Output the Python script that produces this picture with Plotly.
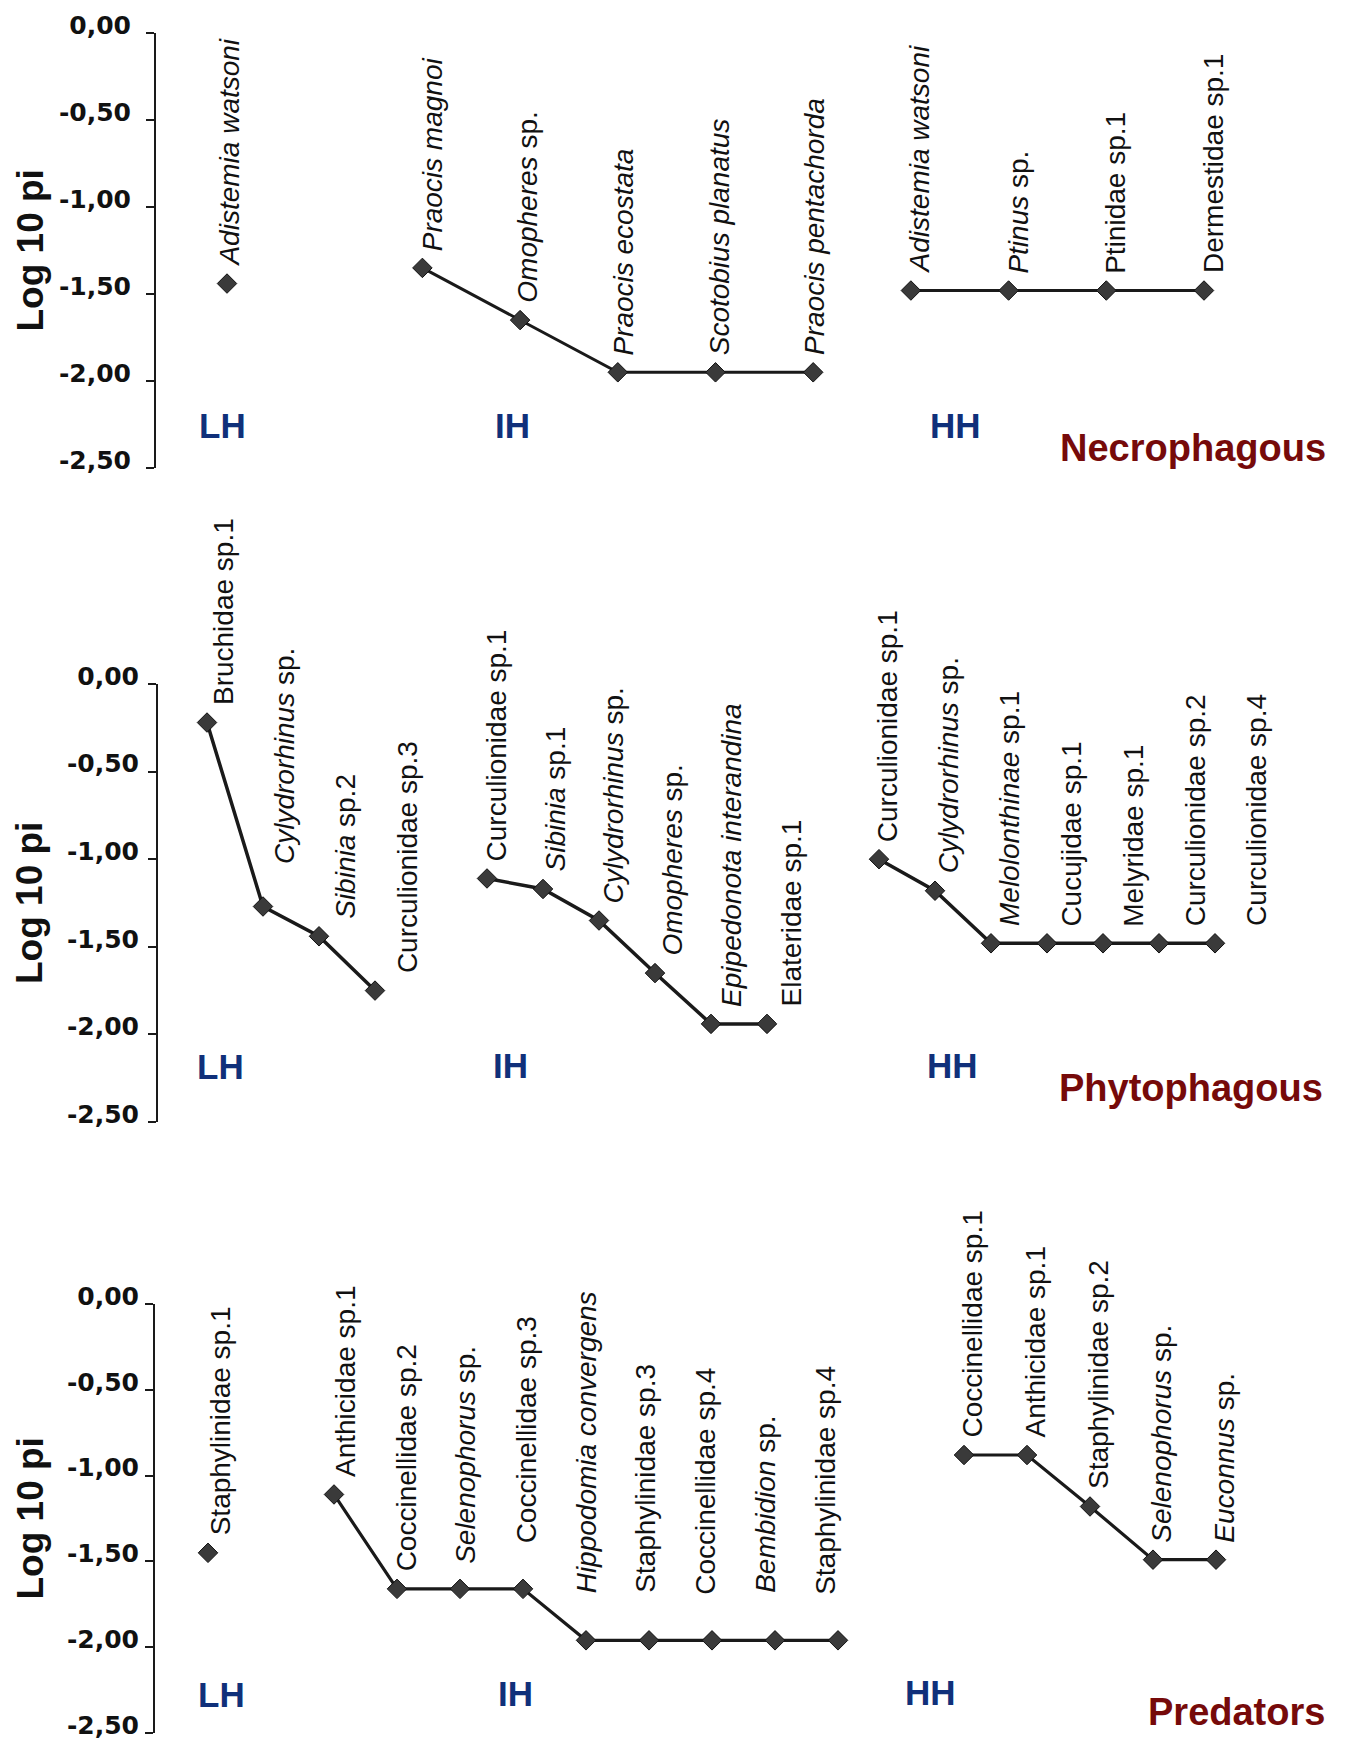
import plotly.graph_objects as go

W, H = 1348, 1751

# ------------------------------------------------------------------ data
panel_names = ["Necrophagous", "Phytophagous", "Predators"]
group_names = ["LH", "IH", "HH"]
y_tick_values = [0.0, -0.5, -1.0, -1.5, -2.0, -2.5]
y_tick_text = ["0,00", "-0,50", "-1,00", "-1,50", "-2,00", "-2,50"]
y_title = "Log 10 pi"

# Necrophagous
nec_lh_species = ["<i>Adistemia watsoni</i>"]
nec_lh_log = [-1.44]
nec_ih_species = ["<i>Praocis magnoi</i>", "<i>Omopheres</i> sp.", "<i>Praocis ecostata</i>",
                  "<i>Scotobius planatus</i>", "<i>Praocis pentachorda</i>"]
nec_ih_log = [-1.35, -1.65, -1.95, -1.95, -1.95]
nec_hh_species = ["<i>Adistemia watsoni</i>", "<i>Ptinus</i> sp.", "Ptinidae sp.1", "Dermestidae sp.1"]
nec_hh_log = [-1.48, -1.48, -1.48, -1.48]

# Phytophagous
phy_lh_species = ["Bruchidae sp.1", "<i>Cylydrorhinus</i> sp.", "<i>Sibinia</i> sp.2", "Curculionidae sp.3"]
phy_lh_log = [-0.22, -1.27, -1.44, -1.75]
phy_ih_species = ["Curculionidae sp.1", "<i>Sibinia</i> sp.1", "<i>Cylydrorhinus</i> sp.",
                  "<i>Omopheres</i> sp.", "<i>Epipedonota interandina</i>", "Elateridae sp.1"]
phy_ih_log = [-1.11, -1.17, -1.35, -1.65, -1.94, -1.94]
phy_hh_species = ["Curculionidae sp.1", "<i>Cylydrorhinus</i> sp.", "<i>Melolonthinae</i> sp.1",
                  "Cucujidae sp.1", "Melyridae sp.1", "Curculionidae sp.2", "Curculionidae sp.4"]
phy_hh_log = [-1.00, -1.18, -1.48, -1.48, -1.48, -1.48, -1.48]

# Predators
pre_lh_species = ["Staphylinidae sp.1"]
pre_lh_log = [-1.45]
pre_ih_species = ["Anthicidae sp.1", "Coccinellidae sp.2", "<i>Selenophorus</i> sp.", "Coccinellidae sp.3",
                  "<i>Hippodomia convergens</i>", "Staphylinidae sp.3", "Coccinellidae sp.4",
                  "<i>Bembidion</i> sp.", "Staphylinidae sp.4"]
pre_ih_log = [-1.11, -1.66, -1.66, -1.66, -1.96, -1.96, -1.96, -1.96, -1.96]
pre_hh_species = ["Coccinellidae sp.1", "Anthicidae sp.1", "Staphylinidae sp.2",
                  "<i>Selenophorus</i> sp.", "<i>Euconnus</i> sp."]
pre_hh_log = [-0.88, -0.88, -1.18, -1.49, -1.49]

series = [
    [(nec_lh_species, nec_lh_log), (nec_ih_species, nec_ih_log), (nec_hh_species, nec_hh_log)],
    [(phy_lh_species, phy_lh_log), (phy_ih_species, phy_ih_log), (phy_hh_species, phy_hh_log)],
    [(pre_lh_species, pre_lh_log), (pre_ih_species, pre_ih_log), (pre_hh_species, pre_hh_log)],
]

# ------------------------------------------------------------------ layout / style
ROW_TOP_PX = [33, 684, 1304]        # pixel row of value 0
ROW_BOT_PX = [468, 1122, 1733]      # pixel row of value -2.5
ROW_AXIS_PX = [155, 157, 154]       # x pixel of the y axis line
ROW_SLOT0_PX = [227, 207, 208]      # x pixel of slot 0
ROW_STEP_PX = [97.7, 56, 63]        # pixel distance between slots
GROUP_FIRST_SLOT = [[0, 2, 7], [0, 5, 12], [0, 2, 12]]
TICK_STANDOFF = [10, 4, 1]
LINE_W = [3, 3.5, 3.2]

# label offsets: (base xshift, drift per item)
LABEL_DX = [[(3, 0), (10, -2), (9, 0)],
            [(16, 5.5), (9, 3), (8, 5.6)],
            [(12, 0), (12, -3), (9, 0)]]
LABEL_GAP = 15
LABEL_LIFT = {(1, 0): {1: 25}, (2, 1): {2: 8, 3: 28, 4: 30, 5: 30, 6: 28, 7: 30, 8: 28}}

GROUP_LABEL_PX = [[(222, 425), (512, 426), (955, 426)],
                  [(220, 1066), (510, 1065), (952, 1065)],
                  [(221, 1694), (515, 1693), (930, 1692)]]
PANEL_LABEL_PX = [(1328, 448), (1325, 1088), (1327, 1712)]

NAVY = "#10307a"
DARKRED = "#760a0a"
INK = "#1a1a1a"

fig = go.Figure()
annotations = []
layout = {}

for r in range(3):
    xa = "x" if r == 0 else f"x{r + 1}"
    ya = "y" if r == 0 else f"y{r + 1}"
    p0, step = ROW_SLOT0_PX[r], ROW_STEP_PX[r]
    layout["xaxis" if r == 0 else f"xaxis{r + 1}"] = dict(
        domain=[0, 1], range=[-p0 / step, (W - p0) / step], anchor=ya,
        visible=False, showgrid=False, zeroline=False, automargin=False)
    layout["yaxis" if r == 0 else f"yaxis{r + 1}"] = dict(
        domain=[1 - ROW_BOT_PX[r] / H, 1 - ROW_TOP_PX[r] / H], range=[-2.5, 0],
        anchor="free", position=ROW_AXIS_PX[r] / W, automargin=False,
        showline=True, linewidth=2, linecolor=INK, ticks="outside", ticklen=8,
        tickwidth=2, tickcolor=INK, showgrid=False, zeroline=False,
        tickvals=y_tick_values, ticktext=y_tick_text,
        tickfont=dict(family="DejaVu Sans", size=25, color="#111111", weight="bold"),
        ticklabelstandoff=TICK_STANDOFF[r], ticklabelshift=-8)

    for g in range(3):
        names, vals = series[r][g]
        xs = [GROUP_FIRST_SLOT[r][g] + i for i in range(len(vals))]
        fig.add_trace(go.Scatter(
            x=xs, y=vals, xaxis=xa, yaxis=ya, mode="lines+markers",
            line=dict(color=INK, width=LINE_W[r]),
            marker=dict(symbol="diamond", size=15, color="#3a3a3a",
                        line=dict(color="#111111", width=1)),
            showlegend=False, hoverinfo="skip"))
        base, drift = LABEL_DX[r][g]
        lifts = LABEL_LIFT.get((r, g), {})
        for i, (nm, v) in enumerate(zip(names, vals)):
            annotations.append(dict(
                x=xs[i], y=v, xref=xa, yref=ya, text=nm, showarrow=False,
                textangle=-90, xanchor="center", yanchor="bottom",
                xshift=base + drift * i, yshift=LABEL_GAP + lifts.get(i, 0),
                font=dict(family="Liberation Sans", size=28, color="#111111")))
        gx, gy = GROUP_LABEL_PX[r][g]
        annotations.append(dict(
            x=gx / W, y=1 - gy / H, xref="paper", yref="paper", text=group_names[g],
            showarrow=False, xanchor="center", yanchor="middle",
            font=dict(family="Liberation Sans", size=35, color=NAVY, weight="bold")))

    # y title
    cy = (ROW_TOP_PX[r] + ROW_BOT_PX[r]) / 2
    annotations.append(dict(
        x=30 / W, y=1 - cy / H, xref="paper", yref="paper", text=y_title,
        showarrow=False, textangle=-90, xanchor="center", yanchor="middle",
        font=dict(family="Liberation Sans", size=37, color="#111111", weight="bold")))
    # panel name
    px, py = PANEL_LABEL_PX[r]
    annotations.append(dict(
        x=px / W, y=1 - py / H, xref="paper", yref="paper", text=panel_names[r],
        showarrow=False, xanchor="right", yanchor="middle",
        font=dict(family="Liberation Sans", size=38, color=DARKRED, weight="bold")))

fig.update_layout(
    width=W, height=H, margin=dict(l=0, r=0, t=0, b=0, pad=0, autoexpand=False),
    paper_bgcolor="white", plot_bgcolor="white",
    annotations=annotations, showlegend=False, **layout)

fig.write_html("out.html", config={"displayModeBar": False},
               post_script="document.body.style.margin='0px';")
